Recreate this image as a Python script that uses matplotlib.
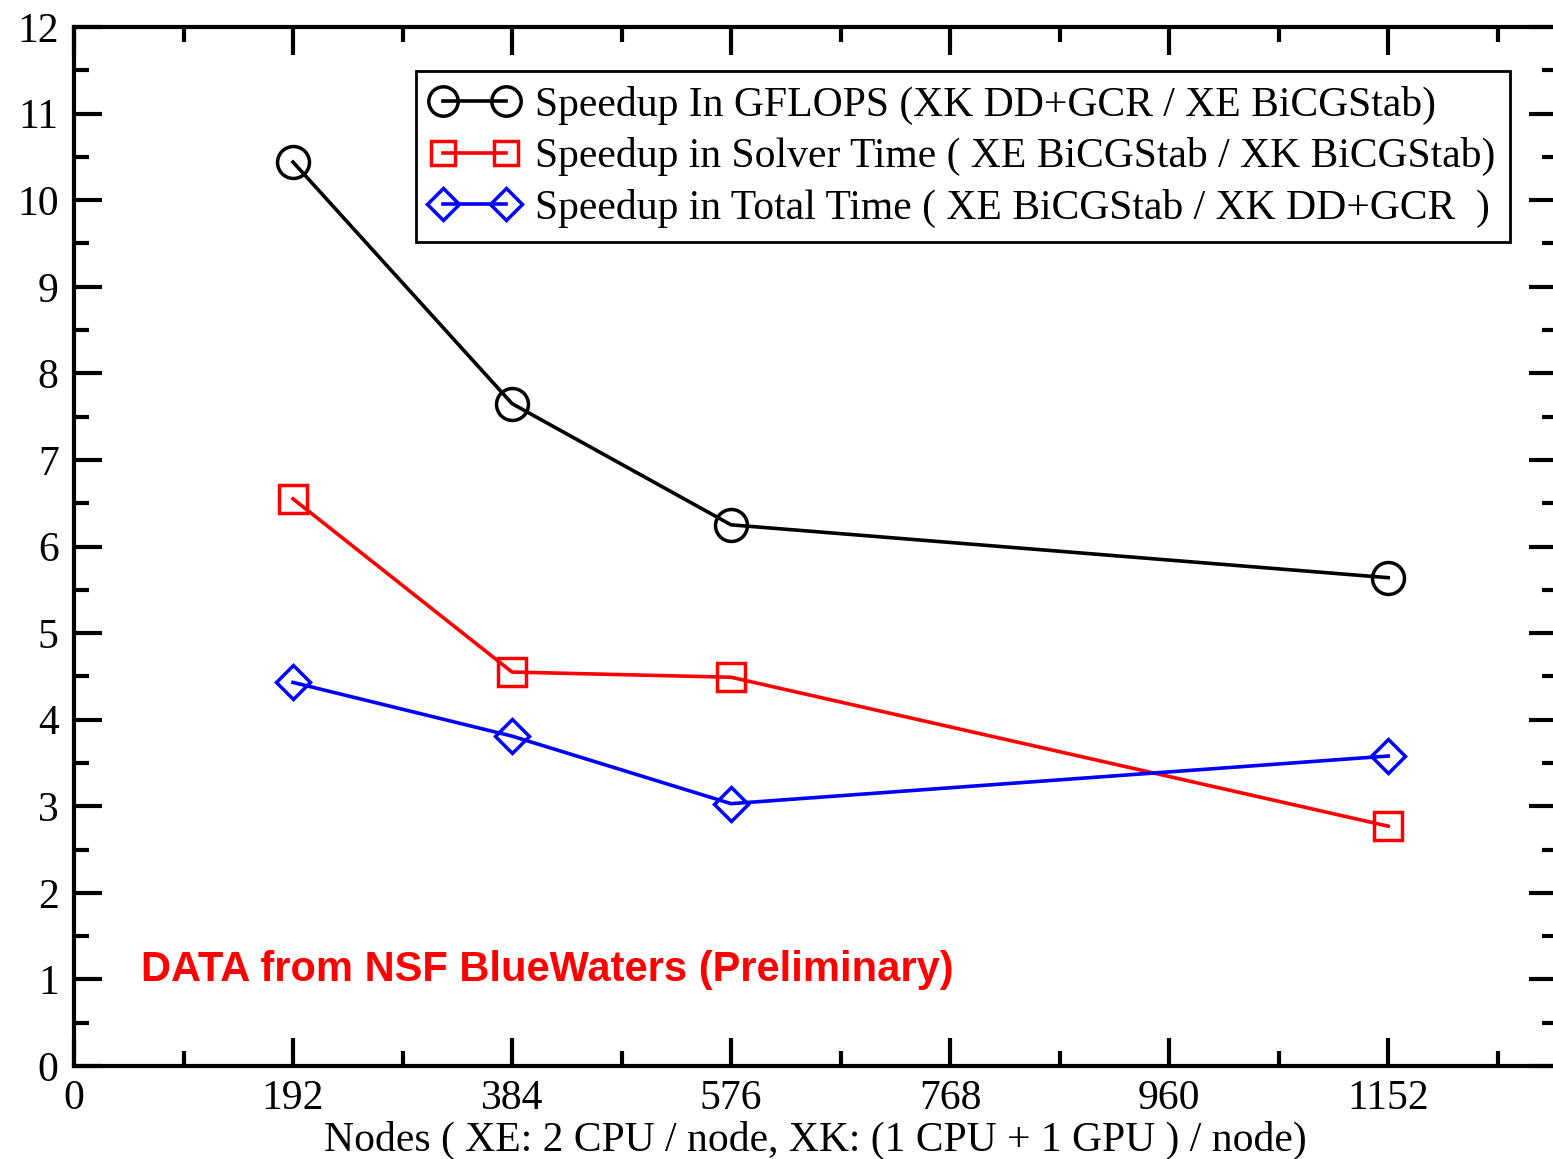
import matplotlib
matplotlib.use("Agg")
import matplotlib.pyplot as plt
from matplotlib.ticker import MultipleLocator

nodes = [192, 384, 576, 1152]
gflops_speedup = [10.44, 7.65, 6.25, 5.64]
solver_speedup = [6.55, 4.55, 4.49, 2.77]
total_speedup = [4.43, 3.81, 3.03, 3.58]
labels = ["Speedup In GFLOPS (XK DD+GCR / XE BiCGStab)",
          "Speedup in Solver Time ( XE BiCGStab / XK BiCGStab)",
          "Speedup in Total Time ( XE BiCGStab / XK DD+GCR  )"]
xticks = [0, 192, 384, 576, 768, 960, 1152]
yticks = list(range(0, 13))

plt.rcParams['font.family'] = ['Liberation Serif', 'DejaVu Serif']

W, H = 1553, 1159
fig = plt.figure(figsize=(W/100, H/100), dpi=100)
left, right, top, bottom = 74, 1557, 27, 1066
ax = fig.add_axes([left/W, (H-bottom)/H, (right-left)/W, (bottom-top)/H])

fs = 30
lw = 2.6
ms = 23
mew = 2.5
ax.plot(nodes, gflops_speedup, color='black', lw=lw, marker='o', ms=ms, mfc='none', mew=mew, label=labels[0])
ax.plot(nodes, solver_speedup, color='red', lw=lw, marker='s', ms=ms*0.85, mfc='none', mew=mew, label=labels[1])
ax.plot(nodes, total_speedup, color='blue', lw=lw, marker='D', ms=ms*0.76, mfc='none', mew=mew, label=labels[2])

ax.set_xlim(0, 1300)
ax.set_ylim(0, 12)
ax.set_xticks(xticks)
ax.set_yticks(yticks)
ax.xaxis.set_minor_locator(MultipleLocator(96))
ax.yaxis.set_minor_locator(MultipleLocator(0.5))
ax.tick_params(which='both', direction='in', top=True, right=True, labelsize=fs, width=3)
ax.tick_params(which='major', length=20.5)
ax.tick_params(which='minor', length=10.5)
ax.tick_params(axis='x', pad=10)
ax.tick_params(axis='y', pad=11)
for s in ax.spines.values():
    s.set_linewidth(3)

ax.set_xlabel("Nodes ( XE: 2 CPU / node, XK: (1 CPU + 1 GPU ) / node)", fontsize=fs, labelpad=1.5)

ax.text(0.0451, 0.0925, "DATA from NSF BlueWaters (Preliminary)", transform=ax.transAxes,
        color='red', fontsize=fs, fontweight='bold', family=['Liberation Sans'], va='center', ha='left')

leg = ax.legend(loc='upper left', bbox_to_anchor=((416-left)/(right-left), 1-(71-top)/(bottom-top)),
                fontsize=fs, numpoints=2, handlelength=2.1, frameon=True, fancybox=False,
                edgecolor='black', framealpha=1, borderpad=0.35, labelspacing=0.3,
                handletextpad=0.4, borderaxespad=0, markerscale=0.92)
leg.get_frame().set_linewidth(2)

fig.savefig("out.png", dpi=100)
